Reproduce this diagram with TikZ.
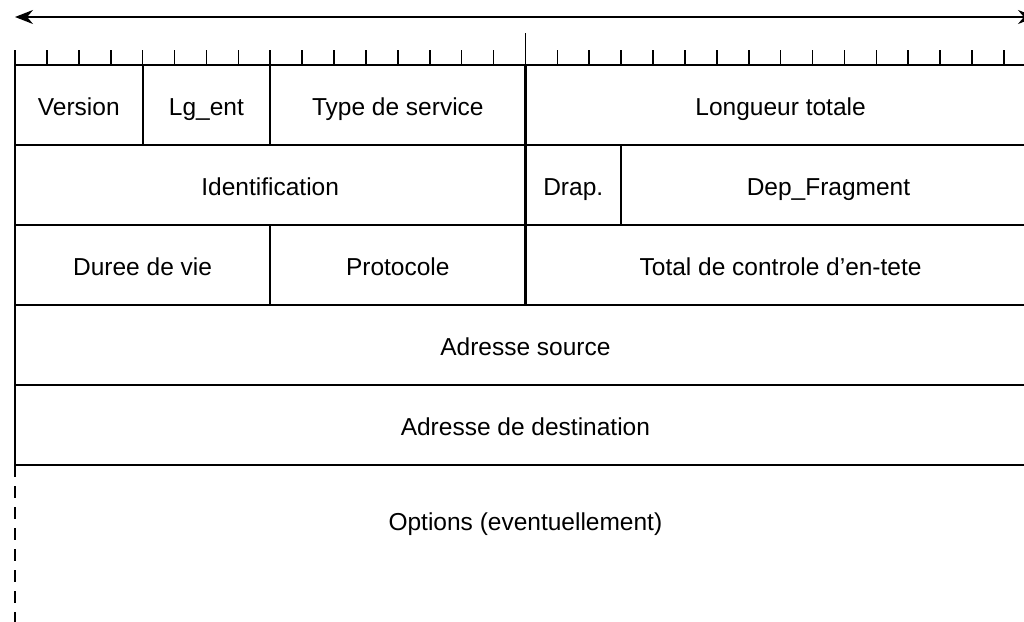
\documentclass[tikz,border=0pt]{standalone}
\usepackage{fontspec}
\setmainfont{Liberation Sans}
\usetikzlibrary{arrows.meta}

\def\largbit{31.9}

\tikzset{
  texte/.style={text height=24pt,text depth=4pt,font=\fontsize{24.5}{28}\selectfont},
  champ/.style={texte,draw,rectangle,line width=2.2pt,inner sep=0pt,outer sep=0pt,
    minimum height=80pt},
  graduation/.style={line width=1.6pt},
}

\begin{document}
\begin{tikzpicture}[x=1pt,y=-1pt]
    \useasboundingbox (0,0) rectangle (1024,621);
    \clip (0,0) rectangle (1024,621);

    % fleche de largeur (32 bits)
    \coordinate (flecheg) at (15,17);
    \coordinate (fleched) at (1036,17);
    \draw[line width=1.6pt,{Stealth[length=18pt,width=14pt]}-{Stealth[length=18pt,width=14pt]}] (flecheg) -- (fleched);

    % graduations
    \foreach \i in {0,...,32}
      \draw[graduation] ({15+\i*\largbit},50) -- ({15+\i*\largbit},65);
    \draw[graduation] ({15+16*\largbit},33) -- ({15+16*\largbit},65);

    % ligne 1
    \node[champ,minimum width={4*\largbit}] (version) at ({15+2*\largbit},105) {Version};
    \node[champ,minimum width={4*\largbit}] (lgent) at ({15+6*\largbit},105) {Lg\_ent};
    \node[champ,minimum width={8*\largbit}] (typeserv) at ({15+12*\largbit},105) {Type de service};
    \node[champ,minimum width={16*\largbit}] (longueur) at ({15+24*\largbit},105) {Longueur totale};

    % ligne 2
    \node[champ,minimum width={16*\largbit}] (ident) at ({15+8*\largbit},185) {Identification};
    \node[champ,minimum width={3*\largbit}] (drap) at ({15+17.5*\largbit},185) {Drap.};
    \node[champ,minimum width={13*\largbit}] (depfrag) at ({15+25.5*\largbit},185) {Dep\_Fragment};

    % ligne 3
    \node[champ,minimum width={8*\largbit}] (duree) at ({15+4*\largbit},265) {Duree de vie};
    \node[champ,minimum width={8*\largbit}] (proto) at ({15+12*\largbit},265) {Protocole};
    \node[champ,minimum width={16*\largbit}] (total) at ({15+24*\largbit},265) {Total de controle d'en-tete};

    % adresses
    \node[champ,minimum width={32*\largbit}] (source) at ({15+16*\largbit},345) {Adresse source};
    \node[champ,minimum width={32*\largbit}] (dest) at ({15+16*\largbit},425) {Adresse de destination};

    % options
    \node[texte,inner sep=0pt] (options) at ({15+16*\largbit},520) {Options (eventuellement)};
    \coordinate (bas) at (15,625);
    \draw[line width=2pt,dash pattern=on 12pt off 9pt] (dest.south west) -- (bas);
\end{tikzpicture}
\end{document}
